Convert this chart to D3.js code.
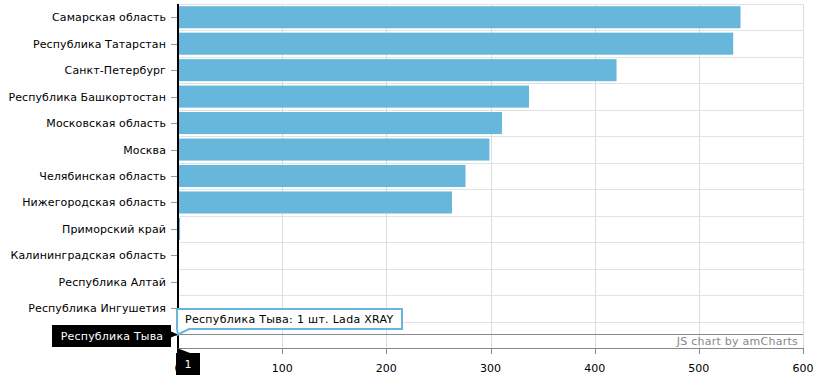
<!DOCTYPE html>
<html>
<head>
<meta charset="utf-8">
<script src="https://cdn.jsdelivr.net/npm/d3@7"></script>
<style>
html,body{margin:0;padding:0;background:#fff;}
svg{display:block;font-family:"DejaVu Sans",Verdana,sans-serif;}
</style>
</head>
<body>
<svg id="chart" width="816" height="377"></svg>
<script>
const categories = ["Самарская область","Республика Татарстан","Санкт-Петербург","Республика Башкортостан","Московская область","Москва","Челябинская область","Нижегородская область","Приморский край","Калининградская область","Республика Алтай","Республика Ингушетия","Республика Тыва"];
const values = [540, 533, 421, 337, 311, 299, 276, 263, 2, 1, 1, 1, 1];
const xTicks = [0, 100, 200, 300, 400, 500, 600];
const hoverIndex = 12;
const hoverText = "Республика Тыва: 1 шт. Lada XRAY";
const creditText = "JS chart by amCharts";

(function () {
const svg = d3.select("#chart");
const pL = 178, pR = 803, pT = 4, pB = 348;
const x = d3.scaleLinear().domain([0, 600]).range([pL, pR]);
const y = d3.scaleBand().domain(categories).range([pT, pB]).paddingInner(0.166).paddingOuter(0.083);

// grid
const grid = svg.append("g");
categories.forEach((c, i) => {
  grid.append("line").attr("x1", pL).attr("x2", pR)
    .attr("y1", Math.round(pT + i * y.step()) + 0.5).attr("y2", Math.round(pT + i * y.step()) + 0.5)
    .attr("stroke", "#e2e2e2").attr("stroke-width", 1);
});
xTicks.forEach(t => {
  if (t === 0) return;
  grid.append("line").attr("x1", Math.round(x(t)) + 0.5).attr("x2", Math.round(x(t)) + 0.5)
    .attr("y1", pT).attr("y2", pB)
    .attr("stroke", "#dcdcdc").attr("stroke-width", 1);
});

// bars
svg.append("g").selectAll("rect").data(categories).join("rect")
  .attr("x", x(0))
  .attr("y", d => y(d))
  .attr("width", (d, i) => x(values[i]) - x(0))
  .attr("height", y.bandwidth())
  .attr("fill", "#67b7dc");

// category axis
const yAxis = svg.append("g");
categories.forEach(c => {
  const cy = Math.round(y(c) + y.bandwidth() / 2) + 0.5;
  yAxis.append("line").attr("x1", 171).attr("x2", 177).attr("y1", cy).attr("y2", cy)
    .attr("stroke", "#999").attr("stroke-width", 1);
  if (c !== categories[hoverIndex]) {
    yAxis.append("text").attr("x", 166).attr("y", cy).attr("dy", "0.35em")
      .attr("text-anchor", "end").attr("font-size", 11).attr("letter-spacing", 0.1)
      .attr("fill", "#000").text(c);
  }
});
yAxis.append("line").attr("x1", pL).attr("x2", pL).attr("y1", pT).attr("y2", pB + 1)
  .attr("stroke", "#000").attr("stroke-width", 2);

// value axis
const xAxis = svg.append("g");
xAxis.append("line").attr("x1", pL).attr("x2", pR + 1).attr("y1", 348.5).attr("y2", 348.5)
  .attr("stroke", "#888").attr("stroke-width", 1);
xTicks.forEach(t => {
  const tx = Math.round(x(t)) + 0.5;
  xAxis.append("line").attr("x1", tx).attr("x2", tx).attr("y1", 349).attr("y2", 354)
    .attr("stroke", "#888").attr("stroke-width", 1);
  xAxis.append("text").attr("x", x(t)).attr("y", 368).attr("dy", "0.35em")
    .attr("text-anchor", "middle").attr("font-size", 11).attr("fill", "#000").text(t);
});

// credit
svg.append("text").attr("x", 798).attr("y", 341).attr("dy", "0.35em")
  .attr("text-anchor", "end").attr("font-size", 11).attr("letter-spacing", 0.25)
  .attr("fill", "#888").text(creditText);

// cursor line
const hc = categories[hoverIndex];
const hy = Math.round(y(hc) + y.bandwidth() / 2) - 0.5;
svg.append("line").attr("x1", pL).attr("x2", pR).attr("y1", hy).attr("y2", hy)
  .attr("stroke", "#888").attr("stroke-width", 1);

// category balloon
const cb = svg.append("g");
cb.append("path").attr("d", `M52,325 L171,325 L171,${hy - 3} L${pL},${hy} L171,${hy + 3} L171,347 L52,347 Z`)
  .attr("fill", "#000");
cb.append("text").attr("x", 112).attr("y", 336).attr("dy", "0.35em").attr("text-anchor", "middle")
  .attr("font-size", 11).attr("letter-spacing", 0.2).attr("fill", "#fff").text(hc);

// value balloon
const vb = svg.append("g");
vb.append("path").attr("d", `M${pL - 1},348 L190,353 L200,353 L200,375 L176,375 L176,353 L${pL - 1},353 Z`)
  .attr("fill", "#000");
vb.append("text").attr("x", 188).attr("y", 364).attr("dy", "0.35em").attr("text-anchor", "middle")
  .attr("font-size", 11).attr("fill", "#fff").text(values[hoverIndex]);

// hover tooltip
const tb = svg.append("g");
const tX0 = 177, tX1 = 402, tY0 = 309, tY1 = 329;
tb.append("path")
  .attr("d", `M${tX0},${tY0} L${tX1},${tY0} L${tX1},${tY1} L189,${tY1} L${pL},${hy} L${tX0},${tY1} Z`)
  .attr("fill", "#fff").attr("stroke", "#67b7dc").attr("stroke-width", 2).attr("stroke-linejoin", "miter");
tb.append("text").attr("x", 185).attr("y", 319).attr("dy", "0.35em")
  .attr("font-size", 11).attr("letter-spacing", 0.3).attr("fill", "#000").text(hoverText);
})();
</script>
</body>
</html>
